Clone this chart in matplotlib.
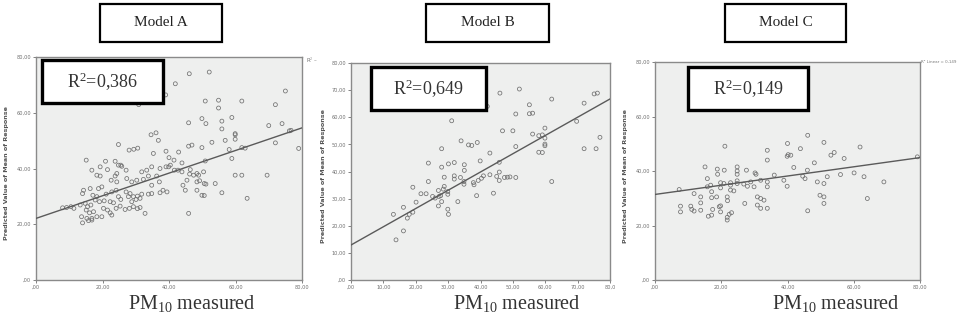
import matplotlib
matplotlib.use("Agg")
import matplotlib.pyplot as plt
from matplotlib.patches import Rectangle
import numpy as np

plt.rcParams['mathtext.fontset'] = 'custom'
plt.rcParams['mathtext.rm'] = 'Liberation Serif'
plt.rcParams['mathtext.it'] = 'Liberation Serif:italic'

# ---------------- data ----------------
titles = ["Model A", "Model B", "Model C"]
r2_labels = ["0,386", "0,649", "0,149"]

a_x = [46.1, 52.1, 41.9, 39.0, 30.9, 50.9, 54.9, 61.9, 75.0, 72.0, 54.9, 45.9, 49.9, 51.1, 55.9, 55.9, 58.9, 70.0,
       74.0, 76.2, 76.7, 36.1, 34.6, 24.8, 29.4, 30.6, 28.0, 36.8, 39.1, 35.3, 42.9, 45.9, 46.9, 49.9, 52.9, 56.9,
       59.9, 59.9, 59.9, 58.1, 61.9, 62.9, 72.0, 79.0, 58.9, 15.1, 20.9, 23.8, 25.5, 40.0, 41.5, 43.9, 50.9, 16.8,
       19.3, 21.5, 24.8, 25.8, 27.1, 31.8, 33.3, 34.8, 37.3, 39.1, 39.9, 40.4, 41.6, 42.7, 43.9, 46.4, 47.4, 48.4,
       48.9, 50.4, 59.9, 61.9, 69.5, 46.2, 33.8, 36.3, 24.3, 23.8, 18.3, 19.3, 22.6, 24.3, 27.3, 28.8, 30.3,
       32.3, 34.8, 37.1, 44.2, 45.4, 48.4, 49.2, 50.6, 51.1, 53.9, 55.9, 49.9, 50.6, 48.4, 44.9, 63.5, 38.2, 39.4,
       37.3, 34.8, 33.8, 31.8, 30.5, 29.3, 27.8, 27.1, 28.3, 24.1, 22.8, 21.1, 19.8, 18.8, 16.3, 14.3, 14.0, 17.1,
       18.3, 8.0, 9.2, 10.5, 11.4, 13.3, 14.8, 15.5, 16.5, 17.8, 19.1, 20.5, 15.1, 16.1, 17.3, 13.7, 15.3, 16.8,
       18.3, 14.0, 15.8, 16.8, 20.3, 21.5, 22.3, 22.8, 19.8, 24.1, 25.3, 26.8, 28.1, 29.3, 30.5, 31.3, 32.8, 45.9,
       28.8, 30.1, 31.3, 24.8, 25.5, 22.3, 23.3]
a_y = [74.0, 74.6, 70.4, 66.4, 62.9, 64.2, 64.5, 64.2, 67.8, 62.9, 61.7, 56.4, 57.9, 56.1, 57.0, 54.2, 58.3, 55.4,
       56.1, 53.5, 53.7, 52.8, 52.1, 48.6, 46.9, 47.3, 46.6, 50.1, 46.2, 45.4, 45.9, 48.0, 48.4, 47.5, 49.4, 50.1,
       52.1, 52.5, 50.5, 46.8, 47.5, 47.3, 49.2, 47.2, 43.6, 43.0, 42.6, 42.6, 41.2, 43.9, 43.0, 42.0, 42.7, 39.4,
       40.6, 39.6, 41.2, 40.8, 39.4, 38.8, 39.4, 40.6, 40.0, 40.6, 40.6, 41.2, 39.4, 39.4, 38.8, 39.6, 37.6, 38.2,
       37.6, 38.8, 37.6, 37.6, 37.6, 38.0, 37.3, 37.3, 38.2, 37.3, 37.6, 37.3, 35.8, 35.2, 36.4, 35.2, 35.8,
       36.1, 34.0, 35.2, 34.0, 35.8, 35.2, 35.6, 34.6, 34.4, 34.6, 31.3, 30.4, 30.3, 32.2, 32.2, 29.3, 32.2, 31.6,
       31.3, 31.0, 30.8, 30.8, 30.1, 29.9, 29.9, 31.6, 31.0, 32.2, 31.6, 30.8, 33.4, 32.8, 32.8, 32.2, 31.0, 30.4,
       29.9, 25.9, 26.0, 26.3, 25.7, 26.9, 27.5, 26.3, 26.9, 28.7, 28.1, 28.4, 25.1, 24.1, 24.5, 22.7, 22.1, 22.1,
       22.7, 20.5, 21.3, 21.5, 25.7, 25.1, 24.1, 23.3, 22.7, 25.7, 26.5, 25.3, 25.7, 26.3, 25.6, 26.0, 23.9, 23.9,
       28.1, 28.9, 29.3, 29.9, 28.9, 28.1, 27.7]

b_x = [46.0, 52.0, 62.0, 72.0, 75.1, 76.1, 42.1, 31.1, 50.9, 55.1, 55.1, 56.1, 69.7, 46.8, 50.0, 59.9, 56.1, 58.0,
       59.1, 59.9, 59.9, 59.9, 34.0, 36.3, 37.3, 39.0, 50.9, 42.9, 28.0, 58.0, 59.1, 72.0, 75.7, 76.9, 23.9, 28.0,
       30.1, 31.9, 35.0, 35.0, 39.9, 45.8, 31.9, 31.9, 28.8, 33.8, 34.9, 34.9, 37.8, 38.0, 39.3, 40.9, 40.3, 42.9,
       45.0, 45.8, 45.8, 47.4, 48.3, 49.1, 50.9, 62.0, 23.9, 19.1, 21.6, 23.2, 27.0, 28.5, 27.2, 27.7, 29.9, 29.9,
       28.8, 27.0, 28.0, 29.9, 30.1, 33.0, 38.8, 44.0, 20.1, 16.2, 19.1, 18.0, 17.4, 13.1, 16.2, 13.9, 25.2, 26.0]
b_y = [68.9, 70.4, 66.7, 65.2, 68.6, 68.9, 64.0, 58.7, 61.2, 64.6, 61.3, 61.5, 58.5, 55.0, 55.0, 56.0, 53.8, 53.2,
       53.5, 52.3, 50.1, 49.5, 51.3, 49.8, 49.6, 50.7, 49.2, 46.8, 48.4, 47.1, 47.0, 48.4, 48.4, 52.6, 43.1, 41.6,
       42.8, 43.3, 42.5, 40.4, 43.9, 43.4, 38.4, 37.2, 37.9, 37.8, 36.3, 35.3, 35.9, 35.1, 36.7, 38.4, 37.5, 38.8,
       38.2, 39.8, 36.7, 37.8, 37.9, 38.0, 37.8, 36.3, 36.3, 34.2, 31.8, 31.8, 33.0, 33.5, 30.8, 31.1, 32.6, 31.6,
       34.5, 27.3, 28.9, 26.1, 24.2, 28.9, 31.1, 32.0, 28.7, 26.8, 25.0, 24.2, 22.8, 24.2, 18.1, 14.8, 30.8, 30.2]

c_x = [46.1, 21.1, 40.0, 51.0, 43.9, 61.9, 33.9, 33.9, 39.9, 40.2, 41.0, 53.1, 54.1, 57.1, 79.2, 48.1, 41.9, 15.1,
       18.8, 20.9, 24.8, 24.8, 24.8, 18.9, 15.8, 27.6, 30.2, 30.5, 36.0, 38.9, 39.9, 44.6, 45.3, 46.0, 52.0, 56.0,
       60.1, 63.1, 69.1, 49.0, 51.0, 16.8, 15.8, 19.8, 20.8, 22.8, 22.8, 24.8, 24.8, 26.8, 27.9, 28.9, 29.9, 31.9,
       33.9, 33.9, 7.3, 11.8, 13.8, 13.8, 17.1, 18.6, 17.1, 19.4, 16.1, 17.1, 21.9, 19.8, 7.7, 7.7, 10.8, 11.1,
       11.8, 13.8, 17.4, 19.8, 21.8, 21.8, 23.1, 22.4, 27.1, 30.9, 31.9, 32.9, 30.9, 31.9, 33.9, 46.1, 49.8, 51.0,
       51.0, 64.1, 21.8, 22.8, 23.8, 19.8]
c_y = [53.1, 49.1, 50.1, 50.5, 48.2, 48.8, 47.6, 44.0, 45.4, 46.0, 45.8, 45.8, 46.8, 44.6, 45.2, 43.0, 41.3, 41.5,
       40.7, 40.3, 41.5, 40.0, 38.8, 38.8, 37.2, 40.3, 39.3, 38.8, 38.5, 36.6, 34.4, 38.1, 37.2, 40.3, 37.9, 38.7,
       39.3, 37.9, 36.0, 36.0, 35.4, 34.8, 34.2, 35.7, 35.4, 35.7, 34.8, 35.4, 36.4, 35.2, 34.4, 36.0, 34.2, 36.6,
       36.0, 34.2, 33.2, 31.7, 30.5, 28.3, 32.4, 30.5, 30.2, 26.9, 23.4, 23.8, 29.1, 27.2, 27.1, 25.0, 27.1, 25.9,
       25.3, 25.6, 25.9, 25.0, 23.0, 22.0, 24.7, 24.1, 28.1, 30.5, 29.9, 29.3, 27.5, 26.3, 26.3, 25.4, 31.1, 30.5,
       28.1, 29.9, 30.5, 33.0, 32.7, 33.8]

# fitted lines: (intercept, slope)
fit_a = (22.1, 0.406)
fit_b = (12.9, 0.673)
fit_c = (31.4, 0.169)

ticks_20 = [0, 20, 40, 60, 80]
labels_20 = [",00", "20,00", "40,00", "60,00", "80,00"]
ticks_10 = [0, 10, 20, 30, 40, 50, 60, 70, 80]
labels_10 = [",00", "10,00", "20,00", "30,00", "40,00", "50,00", "60,00", "70,00", "80,00"]
labels_10x = [",00", "10,00", "20,00", "30,00", "40,00", "50,00", "60,00", "70,00", "80,0"]

# ---------------- figure ----------------
W, H = 963, 312
fig = plt.figure(figsize=(W / 100, H / 100), dpi=100)
fig.patch.set_facecolor("white")

def fx(px):
    return px / W

def fy(py):
    return 1 - py / H

axes_px = [(36, 57, 302, 280), (351, 63, 610, 280), (655, 62, 920, 280)]
panel_data = [(a_x, a_y, fit_a, ticks_20, labels_20, ticks_20, labels_20),
              (b_x, b_y, fit_b, ticks_10, labels_10x, ticks_10, labels_10),
              (c_x, c_y, fit_c, ticks_20, labels_20, ticks_20, labels_20)]
ylabel_x = [7, 323, 625]

gray_txt = "#6e6e6e"
for i, ((l, t, r, b), (xs, ys, fit, xt, xl, yt, yl)) in enumerate(zip(axes_px, panel_data)):
    ax = fig.add_axes([fx(l), fy(b), fx(r - l), (b - t) / H])
    ax.set_facecolor("#eeefee")
    ax.set_xlim(0, 80)
    ax.set_ylim(0, 80)
    ax.scatter(xs, ys, s=8, facecolors="none", edgecolors="#707070", linewidths=0.55, zorder=3)
    xx = np.array([0, 80])
    ax.plot(xx, fit[0] + fit[1] * xx, color="#5a5a5a", lw=1.0, zorder=4)
    ax.set_xticks(xt)
    ax.set_xticklabels(xl)
    ax.set_yticks(yt)
    ax.set_yticklabels(yl)
    ax.tick_params(labelsize=3.6, colors=gray_txt, length=2, width=0.6, pad=1.5)
    for s in ax.spines.values():
        s.set_color("#8a8a8a")
        s.set_linewidth(1.0)
    fig.text(fx(ylabel_x[i]), fy((t + b) / 2 + 5), "Predicted Value of Mean of Response",
             rotation=90, ha="center", va="center", fontsize=4.6, fontweight="bold",
             color="#555555", family="DejaVu Sans")

# small legend texts at right of panels
fig.text(fx(306), fy(60), "R$^2$ \u2013", fontsize=4, color="#777777", ha="left", va="center")
fig.text(fx(921), fy(62), "R\u00b2 Linear = 0,149", fontsize=2.9, color="#777777", ha="left", va="center")

# Model title boxes
title_boxes = [(100, 4, 222, 42), (426, 4, 549, 42), (725, 4, 846, 42)]
for (l, t, r, b), ttl in zip(title_boxes, titles):
    fig.add_artist(Rectangle((fx(l), fy(b)), fx(r - l), (b - t) / H, transform=fig.transFigure,
                             facecolor="white", edgecolor="black", lw=1.6, zorder=5))
    fig.text(fx((l + r) / 2), fy((t + b) / 2), ttl, ha="center", va="center",
             fontsize=11, family="Liberation Serif", color="#222222", zorder=6)

# R^2 boxes
r2_boxes = [(42, 60, 163, 103), (371, 67, 486, 110), (688, 67, 808, 110)]
for (l, t, r, b), r2 in zip(r2_boxes, r2_labels):
    fig.add_artist(Rectangle((fx(l), fy(b)), fx(r - l), (b - t) / H, transform=fig.transFigure,
                             facecolor="white", edgecolor="black", lw=2.4, zorder=5))
    fig.text(fx((l + r) / 2), fy((t + b) / 2), "R$^{2}$=" + r2, ha="center", va="center",
             fontsize=13, family="Liberation Serif", color="#333333", zorder=6)

# x labels
xlab_cx = [192, 517, 836]
for cx in xlab_cx:
    fig.text(fx(cx), fy(303), "PM$_{10}$ measured", ha="center", va="center",
             fontsize=14.5, family="Liberation Serif", color="#333333")

fig.savefig("out.png", dpi=100, facecolor="white")
